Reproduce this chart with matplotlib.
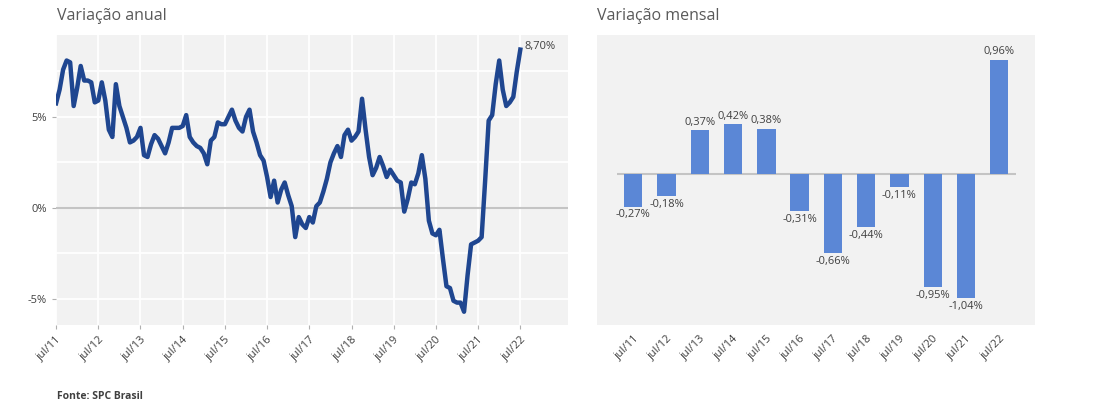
import numpy as np
import matplotlib
matplotlib.use("Agg")
import matplotlib.pyplot as plt
from matplotlib.ticker import MultipleLocator

plt.rcParams['font.family'] = ['Open Sans', 'DejaVu Sans']

# variação anual, mensal de jul/11 a jul/22 (%)
anual = [5.75, 6.5, 7.6, 8.1, 8.0, 5.6, 6.6, 7.8, 7.0, 7.0, 6.9, 5.8,
         5.9, 6.9, 5.9, 4.3, 3.9, 6.8, 5.6, 5.0, 4.4, 3.6, 3.7, 3.9,
         4.4, 2.9, 2.8, 3.5, 4.0, 3.8, 3.4, 3.0, 3.6, 4.4, 4.4, 4.4,
         4.5, 5.1, 3.9, 3.6, 3.4, 3.3, 3.0, 2.4, 3.7, 3.9, 4.7, 4.6,
         4.6, 5.0, 5.4, 4.8, 4.4, 4.2, 5.0, 5.4, 4.2, 3.6, 2.9, 2.6,
         1.7, 0.6, 1.5, 0.3, 1.0, 1.4, 0.7, 0.1, -1.6, -0.5, -0.9, -1.1,
         -0.5, -0.8, 0.1, 0.3, 0.9, 1.6, 2.5, 3.0, 3.4, 2.8, 4.0, 4.3,
         3.7, 3.9, 4.2, 6.0, 4.3, 2.8, 1.8, 2.2, 2.8, 2.3, 1.7, 2.1,
         1.8, 1.5, 1.4, -0.2, 0.5, 1.4, 1.3, 1.9, 2.9, 1.6, -0.7, -1.4,
         -1.5, -1.2, -2.8, -4.3, -4.4, -5.1, -5.2, -5.2, -5.7, -3.7, -2.0, -1.9,
         -1.8, -1.6, 1.5, 4.8, 5.1, 6.8, 8.1, 6.5, 5.6, 5.8, 6.1, 7.5,
         8.7]

anos = ["jul/11", "jul/12", "jul/13", "jul/14", "jul/15", "jul/16",
        "jul/17", "jul/18", "jul/19", "jul/20", "jul/21", "jul/22"]
mensal = [-0.27, -0.18, 0.37, 0.42, 0.38, -0.31, -0.66, -0.44, -0.11, -0.95, -1.04, 0.96]

txt = "#404040"
fundo = "#f2f2f2"
azul = "#1f4690"
barra = "#5b87d6"

fig = plt.figure(figsize=(11, 4.17), dpi=100)

# grafico anual
ax1 = fig.add_axes([0.0505, 0.2206, 0.466, 0.6954])
ax1.set_facecolor(fundo)
meses = np.arange(len(anual))
ax1.plot(meses, anual, color=azul, lw=3.2, solid_joinstyle='round', zorder=3)
ax1.axhline(0, color="#c4c4c4", lw=1.5, zorder=2)
ax1.set_xlim(-0.15, 145.6)
ax1.set_ylim(-6.43, 9.5)
ax1.set_xticks(np.arange(0, len(anual), 12))
ax1.set_xticklabels(anos, rotation=45, ha='right', rotation_mode='anchor')
ax1.set_yticks([-5, 0, 5])
ax1.set_yticklabels(["-5%", "0%", "5%"])
ax1.yaxis.set_minor_locator(MultipleLocator(2.5))
ax1.grid(True, which='both', color='white', lw=1.3, zorder=1)
ax1.grid(False, which='minor', axis='x')
ax1.set_axisbelow(True)
for s in ax1.spines.values():
    s.set_visible(False)
ax1.tick_params(axis='both', which='major', colors="#b0b0b0", labelcolor=txt,
                labelsize=8, length=3, width=0.8)
ax1.tick_params(axis='y', which='minor', length=0)
ax1.annotate("8,70%", (meses[-1], anual[-1]), xytext=(3, 2), textcoords='offset points',
             fontsize=8, color=txt, ha='left', va='center')

# grafico mensal
ax2 = fig.add_axes([0.5425, 0.2206, 0.3985, 0.6954])
ax2.set_facecolor(fundo)
pos = np.arange(len(mensal))
ax2.bar(pos, mensal, width=0.55, color=barra, zorder=3)
ax2.hlines(0, -0.5, len(mensal) - 0.5, color="#c4c4c4", lw=1.5, zorder=2)
ax2.set_xlim(-1.1, 12.08)
ax2.set_ylim(-1.265, 1.17)
for p, v in zip(pos, mensal):
    rot = f"{v:.2f}".replace(".", ",") + "%"
    if v >= 0:
        ax2.annotate(rot, (p, v), xytext=(0, 2), textcoords='offset points',
                     ha='center', va='bottom', fontsize=8, color=txt)
    else:
        ax2.annotate(rot, (p, v), xytext=(0, -2), textcoords='offset points',
                     ha='center', va='top', fontsize=8, color=txt)
ax2.set_xticks(pos)
ax2.set_xticklabels(anos, rotation=45, ha='right', rotation_mode='anchor')
ax2.set_yticks([])
for s in ax2.spines.values():
    s.set_visible(False)
ax2.tick_params(axis='x', length=0, labelsize=8, labelcolor=txt, pad=6)

fig.text(0.052, 0.962, "Variação anual", fontsize=11.5, color="#595959", va='center')
fig.text(0.543, 0.962, "Variação mensal", fontsize=11.5, color="#595959", va='center')
fig.text(0.052, 0.048, "Fonte: SPC Brasil", fontsize=7.5, color=txt, fontweight='bold', va='center')

fig.savefig("out.png", dpi=100)
